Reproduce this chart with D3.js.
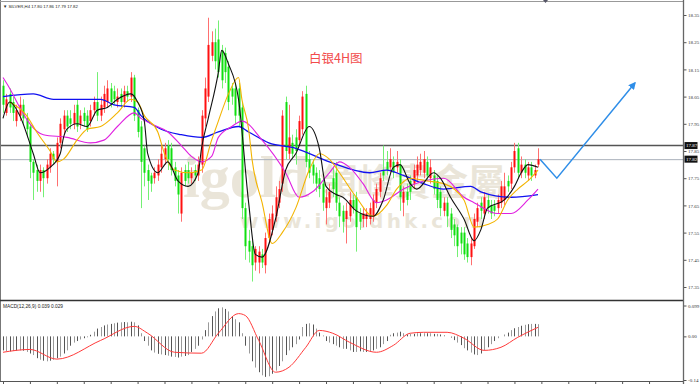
<!DOCTYPE html>
<html><head><meta charset="utf-8">
<script src="https://cdn.jsdelivr.net/npm/d3@7"></script>
<style>html,body{margin:0;padding:0;background:#fff;overflow:hidden}svg{display:block}</style>
</head><body><svg id="c" width="700" height="384"></svg>
<script>
// ---------- data ----------
const open=[18.09,17.99,18.06,18.03,17.96,17.98,18.02,17.97,17.94,17.81,
17.78,17.74,17.78,17.75,17.79,17.84,17.81,17.88,17.93,17.98,
17.97,17.95,18.02,17.95,17.99,17.98,17.96,18.00,18.03,17.98,
18.01,18.03,18.08,18.07,18.03,18.06,18.03,18.07,18.05,18.12,
18.00,17.94,17.86,17.78,17.76,17.75,17.76,17.79,17.82,17.87,
17.86,17.79,17.76,17.62,17.78,17.78,17.75,17.78,17.76,17.80,
17.97,18.05,18.20,18.25,18.26,18.22,18.21,18.16,18.08,18.08,
18.08,18.01,17.64,17.52,17.50,17.44,17.44,17.47,17.43,17.53,
17.56,17.61,17.66,17.73,18.03,17.84,17.88,17.90,17.89,17.93,
18.06,17.82,17.80,17.77,17.75,17.73,17.64,17.66,17.75,17.77,
17.66,17.63,17.60,17.61,17.67,17.68,17.62,17.60,17.60,17.60,
17.61,17.66,17.70,17.78,17.81,17.79,17.81,17.79,17.80,17.66,
17.70,17.74,17.73,17.76,17.78,17.77,17.81,17.75,17.76,17.74,
17.70,17.63,17.66,17.62,17.58,17.57,17.55,17.55,17.51,17.46,
17.50,17.59,17.66,17.62,17.67,17.65,17.65,17.64,17.66,17.67,
17.74,17.73,17.79,17.86,17.77,17.80,17.76,17.79,17.76,17.80];
const close=[18.02,18.04,18.01,17.99,18.00,18.02,17.97,17.93,17.81,17.77,
17.74,17.78,17.75,17.80,17.84,17.82,17.88,17.95,17.98,17.94,
17.95,17.99,17.94,17.98,17.96,17.93,18.00,18.03,17.98,18.02,
18.06,18.08,18.03,18.04,18.05,18.03,18.07,18.05,18.12,17.98,
17.92,17.81,17.77,17.74,17.73,17.77,17.80,17.84,17.86,17.82,
17.78,17.74,17.69,17.77,17.74,17.75,17.77,17.76,17.80,17.98,
18.08,18.24,18.25,18.18,18.14,18.11,18.14,18.03,18.05,17.98,
17.98,17.64,17.50,17.48,17.43,17.49,17.48,17.44,17.53,17.60,
17.62,17.68,17.71,17.98,17.85,17.90,17.84,17.85,17.96,18.05,
17.81,17.77,17.76,17.73,17.71,17.66,17.68,17.70,17.71,17.66,
17.61,17.59,17.63,17.67,17.64,17.57,17.59,17.62,17.62,17.64,
17.67,17.71,17.75,17.76,17.78,17.82,17.77,17.81,17.68,17.70,
17.67,17.70,17.78,17.80,17.81,17.82,17.76,17.79,17.71,17.67,
17.64,17.66,17.61,17.56,17.54,17.50,17.51,17.47,17.46,17.51,
17.60,17.64,17.63,17.68,17.64,17.62,17.63,17.67,17.72,17.72,
17.72,17.79,17.85,17.77,17.80,17.77,17.79,17.76,17.78,17.82];
const high=[18.11,18.06,18.08,18.05,18.02,18.05,18.04,17.99,17.95,17.82,
17.80,17.80,17.79,17.82,17.86,17.85,17.90,17.97,18.00,18.00,
18.00,18.02,18.04,18.00,18.01,18.00,18.02,18.05,18.14,18.05,
18.09,18.11,18.10,18.09,18.08,18.08,18.09,18.09,18.14,18.13,
18.01,17.96,17.87,17.80,17.77,17.79,17.82,17.87,17.88,17.89,
17.88,17.81,17.78,17.79,17.80,17.81,17.79,17.80,17.83,18.00,
18.12,18.34,18.29,18.30,18.33,18.24,18.23,18.18,18.10,18.10,
18.10,18.03,17.66,17.56,17.52,17.50,17.50,17.49,17.55,17.62,
17.65,17.72,17.74,18.00,18.05,18.02,17.91,17.93,17.98,18.07,
18.09,17.85,17.82,17.79,17.78,17.75,17.71,17.73,17.79,17.81,
17.68,17.65,17.66,17.70,17.69,17.70,17.64,17.64,17.64,17.66,
17.69,17.73,17.77,17.87,17.85,17.86,17.83,17.85,17.82,17.72,
17.73,17.76,17.80,17.83,17.84,17.85,17.83,17.82,17.78,17.76,
17.72,17.68,17.68,17.64,17.60,17.58,17.57,17.57,17.53,17.53,
17.62,17.66,17.68,17.70,17.69,17.67,17.67,17.69,17.74,17.77,
17.76,17.81,17.88,17.88,17.83,17.82,17.81,17.81,17.80,17.86];
const low=[17.99,17.98,17.99,17.96,17.94,17.96,17.95,17.90,17.75,17.67,
17.70,17.70,17.68,17.73,17.77,17.80,17.72,17.86,17.91,17.92,
17.93,17.93,17.92,17.93,17.94,17.92,17.94,17.98,17.96,17.96,
17.99,18.01,18.01,18.02,18.01,18.01,18.01,18.03,18.03,17.96,
17.90,17.64,17.72,17.67,17.70,17.73,17.74,17.77,17.80,17.78,
17.76,17.72,17.62,17.59,17.72,17.73,17.73,17.74,17.74,17.77,
17.94,18.03,18.18,18.15,18.12,18.08,18.10,18.00,18.02,17.95,
17.94,17.60,17.45,17.44,17.37,17.41,17.40,17.42,17.40,17.51,
17.54,17.59,17.64,17.70,17.82,17.82,17.82,17.80,17.87,17.91,
17.79,17.75,17.73,17.70,17.68,17.63,17.58,17.64,17.68,17.63,
17.57,17.55,17.51,17.59,17.62,17.48,17.56,17.57,17.57,17.58,
17.59,17.64,17.68,17.74,17.76,17.77,17.75,17.77,17.63,17.61,
17.65,17.67,17.71,17.74,17.76,17.75,17.74,17.73,17.69,17.64,
17.61,17.61,17.57,17.53,17.50,17.46,17.47,17.45,17.44,17.43,
17.49,17.57,17.60,17.60,17.62,17.60,17.61,17.62,17.64,17.65,
17.70,17.71,17.77,17.75,17.75,17.75,17.74,17.74,17.75,17.79];

// moving averages (bar index, value)
const maBlackIdx=[0,2,5,9,11,14,17,18,19,22,25,28,31,34,38,40,42,43,46,49,52,55,58,59,61,64,65,67,70,73,75,77,81,84,87,91,94,96,99,101,105,110,113,116,118,121,123,128,130,133,137,140,142,144,149,152,154,156,159];
const maBlack=[17.97,18.03,17.98,17.84,17.77,17.79,17.84,17.90,17.93,17.95,17.94,18.00,18.01,18.04,18.06,18.03,17.96,17.84,17.77,17.81,17.74,17.72,17.77,17.86,17.97,18.14,18.22,18.17,18.04,17.66,17.47,17.46,17.60,17.78,17.84,17.94,17.86,17.72,17.69,17.68,17.63,17.61,17.67,17.79,17.80,17.73,17.71,17.77,17.75,17.68,17.60,17.52,17.56,17.64,17.67,17.72,17.77,17.80,17.79];
const maOrangeIdx=[2,7,10,14,16,18,22,25,29,34,38,40,42,46,48,51,55,59,62,64,67,70,71,73,74,77,80,83,87,91,94,97,100,105,110,114,117,121,126,131,137,140,144,147,150,153,156,159];
const maOrange=[18.03,17.98,17.92,17.85,17.81,17.82,17.89,17.93,17.94,17.99,18.04,18.03,17.98,17.92,17.84,17.78,17.77,17.78,17.89,17.96,18.06,18.12,18.04,17.93,17.82,17.66,17.51,17.55,17.64,17.78,17.84,17.82,17.77,17.68,17.61,17.65,17.71,17.75,17.74,17.73,17.67,17.57,17.58,17.60,17.67,17.71,17.74,17.78];
const maMagentaIdx=[0,2,5,8,12,19,26,30,34,39,41,44,49,53,56,59,62,64,68,71,77,84,88,92,97,100,103,107,111,114,119,125,131,137,140,147,151,156,159];
const maMagenta=[18.12,18.08,18.01,17.95,17.91,17.90,17.88,17.89,17.94,17.99,17.97,17.95,17.92,17.87,17.83,17.81,17.83,17.90,17.94,17.96,17.89,17.77,17.68,17.70,17.77,17.81,17.79,17.73,17.66,17.67,17.71,17.74,17.75,17.68,17.66,17.62,17.62,17.67,17.71];
const maBlueIdx=[0,9,15,23,29,33,39,41,47,53,59,64,70,73,79,87,97,109,114,119,125,131,139,142,151,159];
const maBlue=[18.05,18.06,18.04,18.04,18.04,18.02,18.01,17.98,17.93,17.91,17.90,17.92,17.94,17.92,17.88,17.86,17.81,17.77,17.78,17.76,17.73,17.71,17.72,17.70,17.68,17.69];

// MACD histogram (one per bar) and signal line
const macdHist=[-0.045,-0.047,-0.048,-0.047,-0.046,-0.045,-0.046,-0.05,-0.055,-0.06,
-0.07,-0.075,-0.078,-0.08,-0.078,-0.075,-0.07,-0.065,-0.055,-0.045,
-0.03,-0.02,-0.015,-0.01,-0.006,-0.003,0.005,0.015,0.025,0.03,
0.035,0.038,0.04,0.042,0.044,0.045,0.046,0.045,0.047,0.045,
0.035,0.01,-0.015,-0.03,-0.045,-0.052,-0.056,-0.058,-0.06,-0.062,
-0.065,-0.066,-0.068,-0.065,-0.063,-0.06,-0.05,-0.04,-0.03,-0.01,
0.02,0.045,0.065,0.08,0.09,0.093,0.088,0.08,0.065,0.055,
0.045,0.01,-0.03,-0.055,-0.08,-0.1,-0.115,-0.125,-0.13,-0.128,
-0.12,-0.11,-0.095,-0.08,-0.06,-0.045,-0.035,-0.025,-0.01,0.03,
0.04,0.042,0.038,0.025,0.012,0.003,-0.015,-0.02,-0.025,-0.03,
-0.035,-0.04,-0.04,-0.045,-0.05,-0.05,-0.048,-0.05,-0.05,-0.048,
-0.045,-0.04,-0.035,-0.025,-0.015,0.005,0.01,0.012,0.015,0.01,
0.006,0.008,0.008,0.01,0.01,0.01,0.01,0.01,0.008,0.008,
0.006,0.004,0.0,-0.005,-0.012,-0.02,-0.028,-0.038,-0.045,-0.052,
-0.058,-0.06,-0.055,-0.045,-0.035,-0.025,-0.015,-0.006,0.0,0.006,
0.012,0.02,0.026,0.03,0.034,0.037,0.039,0.04,0.04,0.039];
const signalIdx=[0,8,16,29,39,43,51,59,64,70,72,76,81,85,90,94,98,103,111,116,121,125,132,137,143,148,153,159];
const signal=[-0.051,-0.042,-0.073,-0.013,0.032,0.010,-0.051,-0.054,0.010,0.073,0.067,-0.013,-0.115,-0.099,-0.035,0.019,0.010,-0.019,-0.051,-0.029,0.010,0.013,0.013,-0.006,-0.045,-0.035,-0.003,0.029];

const priceTicks=[18.35,18.25,18.15,18.05,17.95,17.85,17.75,17.65,17.55,17.45,17.35];
const macdTicks=[0.099,0,-0.14];
const macdTickLabels=["0.099","0.00","-0.14"];
const levelPrices=[17.87,17.82];
const arrowIdx=[159.6,164.6,187.8];
const arrowPrice=[17.82,17.75,18.10];
const titleText="\u25BC SILVER,H4 17.80 17.86 17.79 17.82";
const macdTitle="MACD(12,26,9) 0.039 0.029";
const chartNote="白银4H图";

// ---------- drawing ----------
const svg=d3.select('#c');
const R=683;
const AXF='Liberation Serif';
const x=d3.scaleLinear().domain([0,159]).range([3,538]);
const y=d3.scaleLinear().domain([17.35,18.35]).range([287,15]);
const ym=d3.scaleLinear().domain([-0.14,0.099]).range([380,305.5]);

svg.append('rect').attr('width',700).attr('height',384).attr('fill','#fff');
const defs=svg.append('defs');
defs.append('clipPath').attr('id','cm').append('rect').attr('x',1).attr('y',2).attr('width',R-1).attr('height',298);
defs.append('clipPath').attr('id','cd').append('rect').attr('x',1).attr('y',302).attr('width',R-1).attr('height',79);
const mk=defs.append('marker').attr('id','ah').attr('viewBox','0 0 10 10').attr('refX',8).attr('refY',5)
 .attr('markerWidth',5).attr('markerHeight',5).attr('orient','auto');
mk.append('path').attr('d','M0,0L10,5L0,10z').attr('fill','#2f8ee8');

const main=svg.append('g').attr('clip-path','url(#cm)');

// watermark
const wm=main.append('g').attr('fill','#e6dfd0').attr('opacity',0.8);
wm.append('text').attr('x',183).attr('y',197).attr('font-family','Liberation Serif').attr('font-weight','bold')
  .attr('font-size',60).text('igold');
wm.append('text').attr('x',320).attr('y',196).attr('font-family','Noto Sans CJK TC').attr('font-weight','bold')
  .attr('font-size',37).text('領峰貴金屬');
wm.append('text').attr('x',240).attr('y',228).attr('font-family','DejaVu Sans').attr('font-weight','bold')
  .attr('font-size',20).attr('letter-spacing',3.2).text('www.igoldhk.com');

// level lines
main.append('line').attr('x1',0).attr('x2',R).attr('y1',y(levelPrices[0])).attr('y2',y(levelPrices[0]))
  .attr('stroke','#555').attr('stroke-width',1.6);
main.append('line').attr('x1',0).attr('x2',R).attr('y1',y(levelPrices[1])+0.5).attr('y2',y(levelPrices[1])+0.5)
  .attr('stroke','#a9b0bb').attr('stroke-width',1);

// candles
const idx=d3.range(close.length);
const up=i=>close[i]>=open[i];
main.append('g').selectAll('line').data(idx).join('line')
  .attr('x1',i=>Math.round(x(i))+0.5).attr('x2',i=>Math.round(x(i))+0.5)
  .attr('y1',i=>y(high[i])).attr('y2',i=>y(low[i]))
  .attr('stroke',i=>up(i)?'#ff7070':'#74f074').attr('stroke-width',1);
main.append('g').selectAll('rect').data(idx).join('rect')
  .attr('x',i=>Math.round(x(i))-0.5).attr('width',2)
  .attr('y',i=>y(Math.max(open[i],close[i])))
  .attr('height',i=>Math.max(1,Math.abs(y(open[i])-y(close[i]))))
  .attr('fill',i=>up(i)?'#ff1010':'#10e010');

// moving averages
function drawLine(g,ix,vals,scale,color,w){
  const pts=ix.map((d,k)=>[x(d),scale(vals[k])]);
  g.append('path').attr('d',d3.line().curve(d3.curveMonotoneX)(pts))
   .attr('fill','none').attr('stroke',color).attr('stroke-width',w);
}
drawLine(main,maBlueIdx,maBlue,y,'#1010f0',1.3);
drawLine(main,maMagentaIdx,maMagenta,y,'#e020e0',1.1);
drawLine(main,maOrangeIdx,maOrange,y,'#f3b400',1.1);
drawLine(main,maBlackIdx,maBlack,y,'#111',1.1);

// arrow
main.append('path').attr('d',d3.line()(arrowIdx.map((d,k)=>[x(d),y(arrowPrice[k])])))
  .attr('fill','none').attr('stroke','#2f8ee8').attr('stroke-width',1.5).attr('marker-end','url(#ah)');

// note text
main.append('text').attr('x',309).attr('y',63).attr('font-family','Noto Sans CJK SC').attr('font-size',12.5)
  .attr('fill','#f24b4b').text(chartNote);

// title
svg.append('text').attr('x',3).attr('y',7.5).attr('font-family','Liberation Sans').attr('font-size',4.3)
  .attr('fill','#222').text(titleText);

// frame
svg.append('line').attr('x1',0.5).attr('x2',0.5).attr('y1',0).attr('y2',382).attr('stroke','#777');
svg.append('line').attr('x1',0).attr('x2',R).attr('y1',1.5).attr('y2',1.5).attr('stroke','#999');
svg.append('line').attr('x1',0).attr('x2',R).attr('y1',300.5).attr('y2',300.5).attr('stroke','#333').attr('stroke-width',1.5);
svg.append('polygon').attr('points','543,0 548,0 545.5,3').attr('fill','#556');

// MACD
const md=svg.append('g').attr('clip-path','url(#cd)');
md.append('g').selectAll('line').data(idx).join('line')
  .attr('x1',i=>Math.round(x(i))+0.5).attr('x2',i=>Math.round(x(i))+0.5)
  .attr('y1',ym(0)).attr('y2',i=>ym(macdHist[i]))
  .attr('stroke',i=>i%2?'#9a9a9a':'#555').attr('stroke-width',1);
drawLine(md,signalIdx,signal,ym,'#ff3a3a',1);
svg.append('text').attr('x',3).attr('y',307.5).attr('font-family','Liberation Sans').attr('font-size',4.8)
  .attr('fill','#222').text(macdTitle);

// right axes
const ax=svg.append('g').attr('transform',`translate(${R+0.5},0)`)
  .call(d3.axisRight(y).tickValues(priceTicks).tickSize(3).tickFormat(d3.format('.2f')));
ax.select('.domain').remove();
const ax2=svg.append('g').attr('transform',`translate(${R+0.5},0)`)
  .call(d3.axisRight(ym).tickValues(macdTicks).tickSize(3).tickFormat((d,i)=>macdTickLabels[i]));
ax2.select('.domain').remove();
svg.selectAll('.tick text').attr('font-family',AXF).attr('font-size',5).attr('fill','#333').attr('x',4.5);
svg.selectAll('.tick line').attr('stroke','#555');
svg.append('line').attr('x1',R+0.5).attr('x2',R+0.5).attr('y1',0).attr('y2',384).attr('stroke','#666').attr('stroke-width',1.3);

// price boxes
levelPrices.forEach(p=>{
  svg.append('rect').attr('x',R+1.5).attr('y',y(p)-3.5).attr('width',13).attr('height',7).attr('fill','#111');
  svg.append('text').attr('x',R+3).attr('y',y(p)+1.8).attr('font-family',AXF).attr('font-size',5)
    .attr('fill','#fff').text(p.toFixed(2));
});

// bottom time axis
svg.append('line').attr('x1',0).attr('x2',R).attr('y1',381.5).attr('y2',381.5).attr('stroke','#555');
const bx=svg.append('g').attr('transform','translate(0,381.5)')
  .call(d3.axisBottom(x).tickValues(d3.range(0,200,8)).tickSize(3).tickFormat(''));
bx.select('.domain').remove();
bx.selectAll('.tick line').attr('stroke','#555');
</script></body></html>
